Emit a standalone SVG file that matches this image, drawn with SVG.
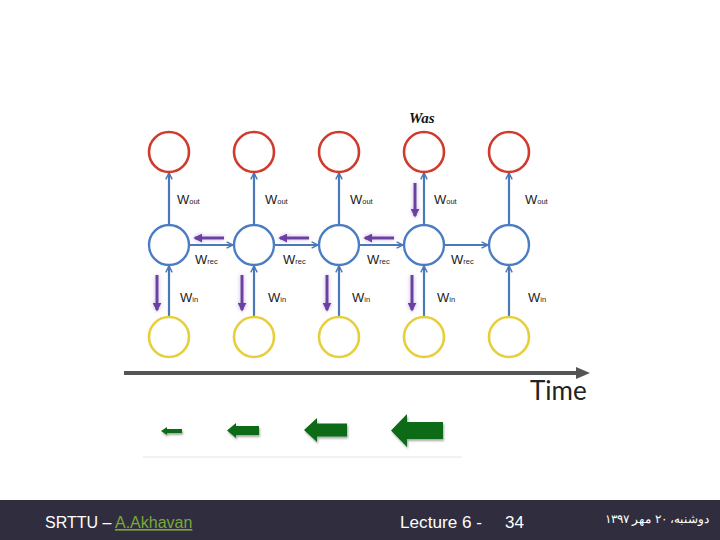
<svg xmlns="http://www.w3.org/2000/svg" width="720" height="540" viewBox="0 0 720 540">
<defs>
<style>
.red{fill:#fff;stroke:#cf3b2c;stroke-width:2.6}
.blue{fill:#fff;stroke:#4a7cc4;stroke-width:2.4}
.yel{fill:#fff;stroke:#e6cf3c;stroke-width:2.6}
.bl{stroke:#4a78b8;stroke-width:2.2;fill:none}
.pu{stroke:#6b3fa3;stroke-width:3;fill:none}
.lbl{font-family:"Liberation Sans",Arial,sans-serif;font-size:13px;fill:#222}
.sub{font-size:7.5px}
.grn{fill:#0b6b12}
.ft{font-family:"Liberation Sans",Arial,sans-serif;fill:#fff}
</style>
<marker id="ba" viewBox="0 0 10 10" refX="9" refY="5" markerWidth="8" markerHeight="8" orient="auto" markerUnits="userSpaceOnUse">
<path d="M1,1 L9,5 L1,9" fill="none" stroke="#4a78b8" stroke-width="1.8"/>
</marker>
<marker id="pa" viewBox="0 0 10 10" refX="8" refY="5" markerWidth="9" markerHeight="9" orient="auto" markerUnits="userSpaceOnUse">
<path d="M0,0 L10,5 L0,10 Z" fill="#6b3fa3"/>
</marker>
<filter id="glow" x="-20%" y="-20%" width="140%" height="140%">
<feGaussianBlur in="SourceAlpha" stdDeviation="2" result="b"/>
<feFlood flood-color="#b89ad8" flood-opacity="0.8" result="f"/>
<feComposite operator="in" in="f" in2="b" result="g"/>
<feMerge><feMergeNode in="g"/><feMergeNode in="SourceGraphic"/></feMerge>
</filter>
<filter id="sh" x="-20%" y="-20%" width="150%" height="160%">
<feGaussianBlur in="SourceAlpha" stdDeviation="1.2"/>
<feOffset dx="1" dy="2" result="o"/>
<feComponentTransfer><feFuncA type="linear" slope="0.35"/></feComponentTransfer>
<feMerge><feMergeNode/><feMergeNode in="SourceGraphic"/></feMerge>
</filter>
</defs>
<rect width="720" height="540" fill="#fff"/>

<g id="connectors">
<line class="bl" x1="169" y1="317" x2="169" y2="266" marker-end="url(#ba)"/>
<line class="bl" x1="254" y1="317" x2="254" y2="266" marker-end="url(#ba)"/>
<line class="bl" x1="339" y1="317" x2="339" y2="266" marker-end="url(#ba)"/>
<line class="bl" x1="424" y1="317" x2="424" y2="266" marker-end="url(#ba)"/>
<line class="bl" x1="509" y1="317" x2="509" y2="266" marker-end="url(#ba)"/>
<line class="bl" x1="169" y1="225" x2="169" y2="173" marker-end="url(#ba)"/>
<line class="bl" x1="254" y1="225" x2="254" y2="173" marker-end="url(#ba)"/>
<line class="bl" x1="339" y1="225" x2="339" y2="173" marker-end="url(#ba)"/>
<line class="bl" x1="424" y1="225" x2="424" y2="173" marker-end="url(#ba)"/>
<line class="bl" x1="509" y1="225" x2="509" y2="173" marker-end="url(#ba)"/>
<line class="bl" x1="189" y1="245" x2="233" y2="245" marker-end="url(#ba)"/>
<line class="bl" x1="274" y1="245" x2="318" y2="245" marker-end="url(#ba)"/>
<line class="bl" x1="359" y1="245" x2="403" y2="245" marker-end="url(#ba)"/>
<line class="bl" x1="444" y1="245" x2="488" y2="245" marker-end="url(#ba)"/>
<g filter="url(#glow)">
<line class="pu" x1="415" y1="183" x2="415" y2="216" marker-end="url(#pa)"/>
<line class="pu" x1="224" y1="238" x2="195" y2="238" marker-end="url(#pa)"/>
<line class="pu" x1="309" y1="238" x2="280" y2="238" marker-end="url(#pa)"/>
<line class="pu" x1="394" y1="238" x2="365" y2="238" marker-end="url(#pa)"/>
<line class="pu" x1="157" y1="275" x2="157" y2="310" marker-end="url(#pa)"/>
<line class="pu" x1="242" y1="275" x2="242" y2="310" marker-end="url(#pa)"/>
<line class="pu" x1="327" y1="275" x2="327" y2="310" marker-end="url(#pa)"/>
<line class="pu" x1="412" y1="275" x2="412" y2="310" marker-end="url(#pa)"/>
</g>
<line x1="124" y1="373" x2="578" y2="373" stroke="#555" stroke-width="4"/>
<path d="M576,367 L590,373 L576,379 Z" fill="#555"/>
</g>

<g id="outputs">
<circle class="red" cx="169" cy="152" r="20"/>
<circle class="red" cx="254" cy="152" r="20"/>
<circle class="red" cx="339" cy="152" r="20"/>
<circle class="red" cx="424" cy="152" r="20"/>
<circle class="red" cx="509" cy="152" r="20"/>
</g>
<g id="hidden">
<circle class="blue" cx="169" cy="245" r="20"/>
<circle class="blue" cx="254" cy="245" r="20"/>
<circle class="blue" cx="339" cy="245" r="20"/>
<circle class="blue" cx="424" cy="245" r="20"/>
<circle class="blue" cx="509" cy="245" r="20"/>
</g>
<g id="inputs">
<circle class="yel" cx="169" cy="337" r="20"/>
<circle class="yel" cx="254" cy="337" r="20"/>
<circle class="yel" cx="339" cy="337" r="20"/>
<circle class="yel" cx="424" cy="337" r="20"/>
<circle class="yel" cx="509" cy="337" r="20"/>
</g>

<g id="labels">
<text class="lbl" x="177" y="204">W<tspan class="sub">out</tspan></text>
<text class="lbl" x="265" y="204">W<tspan class="sub">out</tspan></text>
<text class="lbl" x="350" y="204">W<tspan class="sub">out</tspan></text>
<text class="lbl" x="434" y="204">W<tspan class="sub">out</tspan></text>
<text class="lbl" x="525" y="204">W<tspan class="sub">out</tspan></text>
<text class="lbl" x="195" y="264">W<tspan class="sub">rec</tspan></text>
<text class="lbl" x="283" y="264">W<tspan class="sub">rec</tspan></text>
<text class="lbl" x="367" y="264">W<tspan class="sub">rec</tspan></text>
<text class="lbl" x="451" y="264">W<tspan class="sub">rec</tspan></text>
<text class="lbl" x="180" y="302">W<tspan class="sub">in</tspan></text>
<text class="lbl" x="268" y="302">W<tspan class="sub">in</tspan></text>
<text class="lbl" x="352" y="302">W<tspan class="sub">in</tspan></text>
<text class="lbl" x="437" y="302">W<tspan class="sub">in</tspan></text>
<text class="lbl" x="528" y="302">W<tspan class="sub">in</tspan></text>
<text x="409" y="123" font-family="'Liberation Serif',serif" font-size="15" font-weight="bold" font-style="italic" fill="#111">Was</text>
<text x="530" y="400" font-family="Lato,'Liberation Sans',sans-serif" font-size="26" fill="#222">Time</text>
</g>

<g id="speed-arrows" filter="url(#sh)">
<path class="grn" d="M161,431 L167,427 L167,429 L182,429 L182,433 L167,433 L167,435 Z"/>
<path class="grn" d="M227,430.5 L236,423 L236,426 L259,426 L259,435 L236,435 L236,438 Z"/>
<path class="grn" d="M304,430 L317,418 L317,423.5 L347,423.5 L347,436.5 L317,436.5 L317,442 Z"/>
<path class="grn" d="M391,430.5 L407,414 L407,422 L443,422 L443,439 L407,439 L407,447 Z"/>
</g>
<line x1="143" y1="457" x2="462" y2="457" stroke="#eee" stroke-width="1.5"/>

<g id="footer">
<rect x="0" y="500" width="720" height="40" fill="#302d3e"/>
<text class="ft" x="45" y="528" font-size="16">SRTTU – <tspan fill="#7aa83a" text-decoration="underline">A.Akhavan</tspan></text>
<text class="ft" x="400" y="528" font-size="17" fill="#eee" textLength="82" lengthAdjust="spacingAndGlyphs">Lecture 6 -</text>
<text class="ft" x="505" y="528" font-size="17" fill="#eee">34</text>
<text class="ft" x="709" y="523" font-size="12" text-anchor="end" font-family="'Noto Sans','DejaVu Sans',sans-serif">دوشنبه، ۲۰ مهر ۱۳۹۷</text>
</g>
</svg>
